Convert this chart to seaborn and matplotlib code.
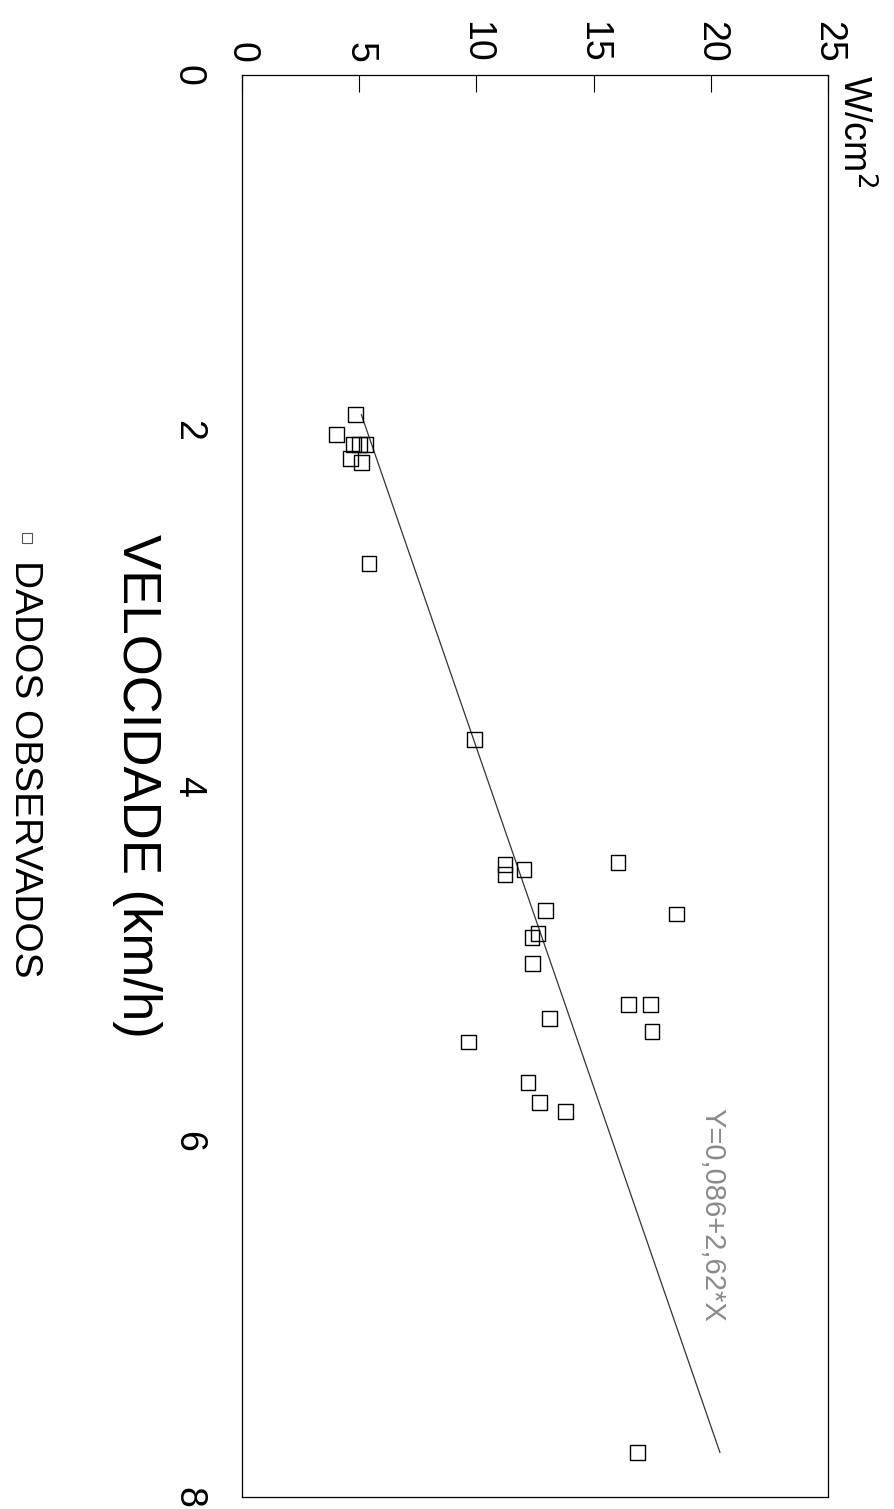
import matplotlib
matplotlib.use("Agg")
import matplotlib.pyplot as plt
import seaborn as sns
import numpy as np
import pandas as pd
from matplotlib.lines import Line2D

# Observed data: walking speed (km/h) and power density (W/cm2)
velocidade = [1.91, 2.02, 2.08, 2.08, 2.08, 2.16, 2.18, 2.75, 3.74,
              4.44, 4.50, 4.47, 4.43, 4.70, 4.72, 4.83, 4.85, 5.00,
              5.23, 5.23, 5.38, 5.31, 5.44, 5.67, 5.78, 5.83, 7.75]
potencia = [4.86, 4.05, 4.74, 5.03, 5.29, 4.61, 5.08, 5.42, 9.90,
            11.22, 11.22, 12.03, 16.04, 12.93, 18.52, 12.63, 12.37, 12.41,
            16.47, 17.41, 17.49, 13.10, 9.68, 12.20, 12.71, 13.82, 16.89]

# Fitted regression Y = a + b*X
intercepto = 0.086
inclinacao = 2.62
equacao = "Y=0,086+2,62*X"

x_ticks = [0, 2, 4, 6, 8]
y_ticks = [0, 5, 10, 15, 20, 25]

df = pd.DataFrame({"velocidade": velocidade, "potencia": potencia})

sns.set_theme(style="white")
plt.rcParams["font.family"] = ["Liberation Sans", "DejaVu Sans"]

fig = plt.figure(figsize=(8.95, 15.09), dpi=100)
ax = fig.add_axes([242 / 895, 1 - 1497 / 1509, (828 - 242) / 895, (1497 - 75) / 1509])

# The page is turned a quarter: speed runs down the page, power runs across
sns.scatterplot(data=df, x="potencia", y="velocidade", ax=ax, marker="s",
                s=115, facecolor="none", edgecolor="black", linewidth=1.0,
                zorder=3, legend=False)

v_line = np.array([min(velocidade), max(velocidade)])
p_line = intercepto + inclinacao * v_line
ax.plot(p_line, v_line, color="#333333", lw=0.9, zorder=2)

ax.set_xlim(0, 25)
ax.set_ylim(8, 0)
ax.set_xticks(y_ticks)
ax.set_yticks(x_ticks)
ax.xaxis.tick_top()
ax.tick_params(axis="both", direction="in", length=12, width=0.8,
               color="black", labelsize=27, labelcolor="black")
ax.tick_params(axis="x", pad=9, labelrotation=-90)
ax.tick_params(axis="y", pad=26, labelrotation=-90)
for lab in ax.get_yticklabels():
    lab.set_verticalalignment("center")

for sp in ax.spines.values():
    sp.set_visible(True)
    sp.set_color("black")
    sp.set_linewidth(0.9)

ax.set_xlabel("")
ax.set_ylabel("VELOCIDADE (km/h)", fontsize=38, color="black",
              rotation=-90, rotation_mode="default")
ax.yaxis.label.set_verticalalignment("center")
ax.yaxis.label.set_horizontalalignment("center")
ax.yaxis.set_label_coords(-0.179, 0.5)

# Unit label at the end of the power axis
ax.text(1.045, 1.0, "W/cm$^2$", transform=ax.transAxes, rotation=-90,
        ha="center", va="top", fontsize=27, color="black")

# Regression equation beside the fitted line
ax.text(20.05, 5.81, equacao, rotation=-90, ha="center", va="top",
        fontsize=21, color="#8a8a8a")

# Legend: open square followed by the series name, turned with the page
fig.add_artist(Line2D([27 / 895], [1 - 538 / 1509], transform=fig.transFigure,
                      marker="s", markersize=7, markerfacecolor="none",
                      markeredgecolor="#555555", markeredgewidth=0.8,
                      linestyle="none"))
fig.text(25 / 895, 1 - 560 / 1509, "DADOS OBSERVADOS", rotation=-90,
         ha="center", va="top", fontsize=28, color="black")

fig.savefig("out.png", dpi=100, facecolor="white")
